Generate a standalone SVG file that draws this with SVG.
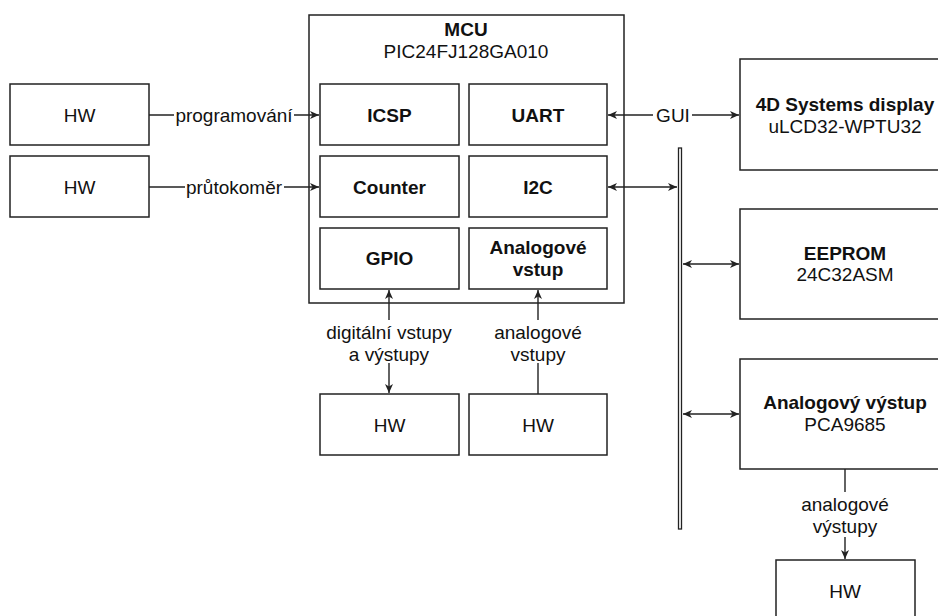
<svg xmlns="http://www.w3.org/2000/svg" width="938" height="616" viewBox="0 0 938 616">
<style>
.box{fill:#fff;stroke:#222;stroke-width:1.5}
.ln{fill:none;stroke:#222;stroke-width:1.4}
text{font-family:"Liberation Sans",Arial,sans-serif;font-size:19px;fill:#111;text-anchor:middle}
.b{font-weight:bold}
.bg{fill:#fff;stroke:none}
</style>
<defs>
<marker id="ah" markerUnits="userSpaceOnUse" markerWidth="11" markerHeight="10" refX="9" refY="4.5" orient="auto-start-reverse">
<path d="M0,0.5 L9,4.5 L0,8.5 L2.5,4.5 Z" fill="#222"/>
</marker>
</defs>
<rect width="938" height="616" fill="#fff"/>
<g id="hw1"><rect class="box" x="10" y="84" width="139" height="61"/><text x="79.5" y="122">HW</text></g>
<g id="hw2"><rect class="box" x="10" y="156" width="139" height="61"/><text x="79.5" y="194">HW</text></g>
<g id="mcu"><rect class="box" x="309" y="15" width="315" height="288"/>
<text class="b" x="466" y="36">MCU</text>
<text x="466" y="58">PIC24FJ128GA010</text></g>
<g id="icsp"><rect class="box" x="320" y="84" width="139" height="61"/><text class="b" x="389.5" y="122">ICSP</text></g>
<g id="uart"><rect class="box" x="469" y="84" width="138" height="61"/><text class="b" x="538" y="122">UART</text></g>
<g id="counter"><rect class="box" x="320" y="156" width="139" height="61"/><text class="b" x="389.5" y="194">Counter</text></g>
<g id="i2c"><rect class="box" x="469" y="156" width="138" height="61"/><text class="b" x="538" y="194">I2C</text></g>
<g id="gpio"><rect class="box" x="320" y="228" width="139" height="61"/><text class="b" x="389.5" y="265">GPIO</text></g>
<g id="adc"><rect class="box" x="469" y="228" width="138" height="61"/><text class="b" x="538" y="254">Analogové</text><text class="b" x="538" y="276">vstup</text></g>
<g id="hw3"><rect class="box" x="320" y="394" width="139" height="61"/><text x="389.5" y="432">HW</text></g>
<g id="hw4"><rect class="box" x="469" y="394" width="138" height="61"/><text x="538" y="432">HW</text></g>
<g id="display"><rect class="box" x="740" y="59" width="212" height="111"/>
<text class="b" x="845" y="111">4D Systems display</text>
<text x="845" y="133">uLCD32-WPTU32</text></g>
<g id="eeprom"><rect class="box" x="740" y="209" width="212" height="110"/>
<text class="b" x="845" y="260">EEPROM</text>
<text x="845" y="281">24C32ASM</text></g>
<g id="aout"><rect class="box" x="740" y="359" width="212" height="110"/>
<text class="b" x="845" y="409">Analogový výstup</text>
<text x="845" y="431">PCA9685</text></g>
<g id="hw5"><rect class="box" x="776" y="560" width="139" height="61"/><text x="845" y="598">HW</text></g>
<g id="connectors">
<line class="ln" x1="149" y1="115" x2="319" y2="115" marker-end="url(#ah)"/>
<line class="ln" x1="149" y1="187" x2="319" y2="187" marker-end="url(#ah)"/>
<line class="ln" x1="608" y1="115" x2="739" y2="115" marker-start="url(#ah)" marker-end="url(#ah)"/>
<line class="ln" x1="608" y1="187" x2="677" y2="187" marker-start="url(#ah)" marker-end="url(#ah)"/>
<line class="ln" x1="683" y1="264" x2="739" y2="264" marker-start="url(#ah)" marker-end="url(#ah)"/>
<line class="ln" x1="683" y1="414" x2="739" y2="414" marker-start="url(#ah)" marker-end="url(#ah)"/>
<line class="ln" x1="389" y1="290" x2="389" y2="393" marker-start="url(#ah)" marker-end="url(#ah)"/>
<line class="ln" x1="538" y1="394" x2="538" y2="290" marker-end="url(#ah)"/>
<line class="ln" x1="845" y1="469" x2="845" y2="559" marker-end="url(#ah)"/>
<rect id="bus" x="678.5" y="148" width="3" height="381" fill="#fff" stroke="#222" stroke-width="1.3"/>
<rect class="bg" x="174" y="104" width="120" height="22"/>
<text x="234" y="122">programování</text>
<rect class="bg" x="185" y="176" width="99" height="22"/>
<text x="234" y="194">průtokoměr</text>
<rect class="bg" x="653" y="104" width="39" height="22"/>
<text x="673" y="122">GUI</text>
<rect class="bg" x="325" y="320" width="130" height="43"/>
<text x="389" y="339">digitální vstupy</text>
<text x="389" y="361">a výstupy</text>
<rect class="bg" x="495" y="320" width="86" height="43"/>
<text x="538" y="339">analogové</text>
<text x="538" y="361">vstupy</text>
<rect class="bg" x="802" y="492" width="86" height="45"/>
<text x="845" y="511">analogové</text>
<text x="845" y="533">výstupy</text>
</g>
</svg>
